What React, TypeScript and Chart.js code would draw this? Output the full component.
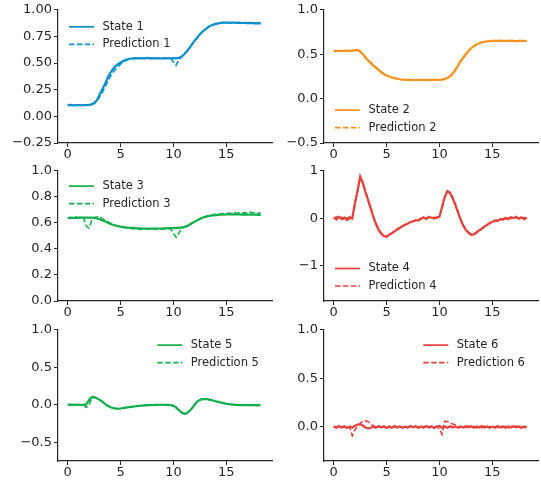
import React, { useEffect, useRef } from "react";
import { Chart, registerables } from "chart.js";

Chart.register(...registerables);

// ---------------- data ----------------
const TIME = [
  0, 0.25, 0.5, 0.75, 1, 1.25, 1.5, 1.75, 2, 2.25, 2.5, 2.75, 3, 3.25, 3.5, 3.75, 4, 4.25, 4.5, 4.75,
  5, 5.25, 5.5, 5.75, 6, 6.25, 6.5, 6.75, 7, 7.25, 7.5, 7.75, 8, 8.25, 8.5, 8.75, 9, 9.25, 9.5, 9.75,
  10, 10.25, 10.5, 10.75, 11, 11.25, 11.5, 11.75, 12, 12.25, 12.5, 12.75, 13, 13.25, 13.5, 13.75, 14, 14.25, 14.5, 14.75,
  15, 15.25, 15.5, 15.75, 16, 16.25, 16.5, 16.75, 17, 17.25, 17.5, 17.75, 18, 18.25,
];

const STATE_1 = [
  0.105, 0.107, 0.104, 0.106, 0.105, 0.103, 0.106, 0.105, 0.107,
  0.112, 0.125, 0.15, 0.2, 0.25, 0.3, 0.355, 0.405, 0.44, 0.47, 0.49, 0.505, 0.52, 0.53, 0.538, 0.543,
  0.545, 0.547, 0.544, 0.546, 0.545, 0.548, 0.544, 0.546, 0.545, 0.547, 0.543, 0.546, 0.545, 0.547, 0.544, 0.546, 0.545,
  0.548, 0.56, 0.58, 0.61, 0.64, 0.675, 0.71, 0.74, 0.77, 0.795, 0.815, 0.835, 0.85, 0.86, 0.868, 0.873, 0.877, 0.879,
  0.88, 0.878, 0.881, 0.879, 0.877, 0.88, 0.876, 0.878, 0.875, 0.877, 0.874, 0.873, 0.875, 0.872,
];
const PRED_1 = [
  0.104, 0.106, 0.105, 0.107, 0.104, 0.106, 0.105, 0.104, 0.106,
  0.11, 0.12, 0.14, 0.18, 0.22, 0.27, 0.32, 0.37, 0.41, 0.44, 0.465, 0.49, 0.51, 0.525, 0.535, 0.541,
  0.544, 0.546, 0.545, 0.547, 0.544, 0.546, 0.545, 0.544, 0.547, 0.545, 0.546, 0.544, 0.546, 0.545, 0.544, 0.51, 0.48,
  0.53, 0.555, 0.578, 0.605, 0.64, 0.675, 0.71, 0.74, 0.768, 0.793, 0.815, 0.835, 0.85, 0.86, 0.868, 0.874, 0.877, 0.88,
  0.879, 0.881, 0.878, 0.88, 0.876, 0.879, 0.877, 0.875, 0.878, 0.874, 0.876, 0.873, 0.874, 0.871,
];

const STATE_2 = [
  0.535, 0.538, 0.536, 0.539, 0.537, 0.54, 0.538, 0.541, 0.545,
  0.548, 0.53, 0.5, 0.46, 0.43, 0.4, 0.37, 0.345, 0.32, 0.295, 0.275, 0.26, 0.248, 0.238, 0.23, 0.223,
  0.218, 0.214, 0.212, 0.21, 0.211, 0.209, 0.21, 0.212, 0.209, 0.211, 0.21, 0.208, 0.211, 0.21, 0.212, 0.211, 0.214,
  0.22, 0.232, 0.25, 0.28, 0.32, 0.37, 0.418, 0.46, 0.5, 0.537, 0.567, 0.59, 0.608, 0.622, 0.633, 0.64, 0.645, 0.648,
  0.65, 0.651, 0.649, 0.652, 0.65, 0.651, 0.649, 0.652, 0.65, 0.648, 0.651, 0.649, 0.65, 0.648,
];
const PRED_2 = [
  0.537, 0.536, 0.539, 0.535, 0.538, 0.537, 0.54, 0.539, 0.543,
  0.55, 0.535, 0.51, 0.47, 0.44, 0.41, 0.38, 0.355, 0.33, 0.303, 0.28, 0.263, 0.25, 0.24, 0.231, 0.224,
  0.219, 0.215, 0.211, 0.21, 0.212, 0.21, 0.209, 0.211, 0.21, 0.212, 0.209, 0.21, 0.211, 0.209, 0.213, 0.21, 0.215,
  0.222, 0.235, 0.255, 0.29, 0.33, 0.38, 0.425, 0.468, 0.507, 0.542, 0.57, 0.593, 0.61, 0.624, 0.634, 0.641, 0.646, 0.649,
  0.651, 0.65, 0.652, 0.649, 0.651, 0.65, 0.652, 0.649, 0.651, 0.65, 0.648, 0.65, 0.649, 0.651,
];

const STATE_3 = [
  0.637, 0.639, 0.638, 0.64, 0.639, 0.641, 0.64, 0.641, 0.64,
  0.64, 0.638, 0.634, 0.628, 0.62, 0.612, 0.603, 0.594, 0.586, 0.58, 0.575, 0.571, 0.568, 0.565, 0.563, 0.562,
  0.561, 0.559, 0.558, 0.557, 0.557, 0.556, 0.556, 0.557, 0.556, 0.557, 0.557, 0.558, 0.558, 0.559, 0.559, 0.56, 0.561,
  0.562, 0.565, 0.568, 0.575, 0.585, 0.597, 0.608, 0.619, 0.63, 0.639, 0.645, 0.651, 0.655, 0.658, 0.66, 0.662, 0.663, 0.664,
  0.665, 0.665, 0.666, 0.665, 0.666, 0.665, 0.664, 0.665, 0.664, 0.664, 0.663, 0.663, 0.662, 0.662,
];
const PRED_3 = [
  0.635, 0.642, 0.637, 0.645, 0.64, 0.646, 0.64, 0.575, 0.56,
  0.615, 0.642, 0.645, 0.65, 0.632, 0.62, 0.61, 0.6, 0.59, 0.582, 0.576, 0.571, 0.567, 0.563, 0.56, 0.557,
  0.553, 0.556, 0.551, 0.554, 0.549, 0.555, 0.552, 0.55, 0.556, 0.551, 0.554, 0.552, 0.556, 0.553, 0.555, 0.52, 0.49,
  0.52, 0.555, 0.565, 0.573, 0.584, 0.598, 0.61, 0.622, 0.632, 0.642, 0.648, 0.655, 0.658, 0.663, 0.665, 0.668, 0.67, 0.672,
  0.672, 0.676, 0.671, 0.678, 0.673, 0.679, 0.674, 0.68, 0.675, 0.682, 0.676, 0.68, 0.674, 0.678,
];

const STATE_4 = [
  0.02, -0.03, 0.03, -0.02, 0.01, -0.04, 0.02, -0.01, 0.31, 0.58, 0.88, 0.74, 0.55, 0.38, 0.2, 0.02,
  -0.13, -0.25, -0.33, -0.38, -0.39, -0.35, -0.32, -0.28, -0.24,
  -0.21, -0.17, -0.14, -0.12, -0.08, -0.07, -0.04, -0.05, -0.01, 0.02, -0.02, 0.03, 0.01, -0.01, 0.02, 0.03, 0.24,
  0.45, 0.57, 0.53, 0.42, 0.28, 0.12, -0.03, -0.16, -0.25, -0.31, -0.35, -0.34, -0.3, -0.26, -0.22, -0.18, -0.14, -0.1,
  -0.08, -0.05, -0.06, -0.02, -0.03, 0.01, -0.02, 0.02, 0, 0.03, -0.01, 0.02, -0.02, 0.01,
];
const PRED_4 = [
  -0.01, 0.03, -0.02, 0.02, -0.03, 0.01, -0.02, 0.02, 0.28, 0.56, 0.85, 0.76, 0.57, 0.4, 0.22, 0.04,
  -0.11, -0.23, -0.32, -0.37, -0.4, -0.36, -0.31, -0.27, -0.23,
  -0.2, -0.16, -0.15, -0.11, -0.09, -0.06, -0.05, -0.03, -0.02, 0.01, 0, 0.02, -0.01, 0.02, 0, 0.05, 0.22,
  0.43, 0.57, 0.55, 0.44, 0.3, 0.14, -0.01, -0.14, -0.24, -0.3, -0.34, -0.35, -0.31, -0.27, -0.23, -0.19, -0.15, -0.11,
  -0.07, -0.06, -0.04, -0.03, -0.01, -0.02, 0.01, -0.01, 0.02, 0.01, 0, -0.02, 0.01, 0,
];

const STATE_5 = [
  0, 0.003, -0.002, 0.002, 0, -0.003, 0.002, 0.005,
  0.06, 0.1, 0.104, 0.088, 0.066, 0.042, 0.015, -0.013, -0.03, -0.042, -0.05, -0.053, -0.05, -0.043, -0.037, -0.032, -0.027,
  -0.023, -0.019, -0.015, -0.012, -0.009, -0.006, -0.004, -0.003, -0.002, -0.001, 0, 0, -0.001, 0, -0.005, -0.015, -0.035,
  -0.07, -0.1, -0.122, -0.115, -0.085, -0.048, 0, 0.044, 0.065, 0.075, 0.077, 0.074, 0.066, 0.057, 0.047, 0.038, 0.029, 0.021,
  0.014, 0.008, 0.004, 0.001, -0.002, -0.004, -0.005, -0.004, -0.006, -0.005, -0.006, -0.005, -0.007, -0.006,
];
const PRED_5 = [
  0.002, -0.001, 0.003, 0, -0.002, 0.003, 0, -0.035,
  -0.01, 0.085, 0.1, 0.09, 0.07, 0.045, 0.017, -0.01, -0.028, -0.04, -0.048, -0.052, -0.05, -0.044, -0.038, -0.033, -0.028,
  -0.024, -0.02, -0.016, -0.013, -0.01, -0.007, -0.005, -0.003, -0.002, -0.001, 0, 0, -0.001, 0, -0.004, -0.016, -0.04,
  -0.072, -0.102, -0.12, -0.112, -0.083, -0.046, 0.002, 0.045, 0.066, 0.076, 0.078, 0.073, 0.065, 0.056, 0.046, 0.037, 0.028, 0.02,
  0.013, 0.008, 0.003, 0, -0.002, -0.004, -0.005, -0.005, -0.006, -0.005, -0.006, -0.006, -0.007, -0.006,
];

const STATE_6 = [
  0.005, -0.008, 0.01, -0.005, 0.007, -0.01, 0.004, -0.006, 0.012, 0.025,
  0.03, 0.015, -0.005, -0.015, -0.01, 0.006, -0.008, 0.01, -0.004, 0.008,
  -0.01, 0.005, -0.007, 0.009, -0.005, 0.006, -0.009, 0.004, -0.006, 0.01,
  -0.004, 0.007, -0.008, 0.005, -0.006, 0.009, -0.005, 0.006, -0.01, 0.004,
  0.01, -0.008, 0.006, -0.007, 0.008, -0.005, 0.006, -0.009, 0.005, -0.006,
  0.008, -0.004, 0.007, -0.008, 0.005, -0.006, 0.009, -0.005, 0.006, -0.008,
  0.004, -0.007, 0.009, -0.005, 0.006, -0.008, 0.005, -0.006, 0.008, -0.004,
  0.006, -0.007, 0.005, -0.006,
];
const PRED_6 = [
  0.006, -0.007, 0.008, -0.004, 0.006, -0.009, 0.003, -0.09, -0.03, 0.01,
  0.035, 0.062, 0.065, 0.055, 0.035, 0.012, -0.005, 0.008, -0.006, 0.007,
  -0.009, 0.006, -0.005, 0.008, -0.006, 0.007, -0.008, 0.005, -0.007, 0.009,
  -0.005, 0.006, -0.008, 0.004, -0.006, 0.008, -0.005, 0.007, -0.009, 0.005,
  -0.02, -0.075, 0.06, 0.055, 0.04, 0.03, 0.022, 0.01, -0.004, 0.006,
  -0.007, 0.008, -0.005, 0.006, -0.009, 0.004, -0.006, 0.008, -0.005, 0.007,
  -0.008, 0.005, -0.006, 0.009, -0.004, 0.006, -0.008, 0.005, -0.007, 0.008,
  -0.005, 0.006, -0.007, 0.004,
];

const STATE_LABELS = ["State 1", "State 2", "State 3", "State 4", "State 5", "State 6"];
const PRED_LABELS = ["Prediction 1", "Prediction 2", "Prediction 3", "Prediction 4", "Prediction 5", "Prediction 6"];

const X_TICKS = [0, 5, 10, 15];
const Y_TICKS_1 = [-0.25, 0, 0.25, 0.5, 0.75, 1.0];
const Y_TICKS_2 = [-0.5, 0, 0.5, 1.0];
const Y_TICKS_3 = [0, 0.2, 0.4, 0.6, 0.8, 1.0];
const Y_TICKS_4 = [-1, 0, 1];
const Y_TICKS_5 = [-0.5, 0, 0.5, 1.0];
const Y_TICKS_6 = [0, 0.5, 1.0];

// ---------------- styling / layout ----------------
const BLUE = "#0c8fcc";
const ORANGE = "#f7931e";
const GREEN = "#12b04c";
const RED = "#e8403a";
const INK = "#262626";
const FONT = "'DejaVu Sans', sans-serif";

const Y_AXIS_W = 50;
const X_AXIS_H = 20;
const PAD_TOP = 8;
const PAD_BOTTOM = 2;

type PanelCfg = {
  state: number[];
  pred: number[];
  idx: number;
  color: string;
  yMin: number;
  yMax: number;
  yTicks: number[];
  dec: number;
  left: number;
  top: number;
  w: number;
  h: number;
  padR: number;
  legend: { dx: number; dy: number };
};

const PANELS: PanelCfg[] = [
  { state: STATE_1, pred: PRED_1, idx: 0, color: BLUE, yMin: -0.25, yMax: 1.0, yTicks: Y_TICKS_1, dec: 2,
    left: 8, top: 0, w: 268, h: 165, padR: 4, legend: { dx: 11, dy: 17 } },
  { state: STATE_2, pred: PRED_2, idx: 1, color: ORANGE, yMin: -0.5, yMax: 1.0, yTicks: Y_TICKS_2, dec: 1,
    left: 274, top: 0, w: 266, h: 165, padR: 2, legend: { dx: 11, dy: 100.3 } },
  { state: STATE_3, pred: PRED_3, idx: 2, color: GREEN, yMin: 0, yMax: 1.0, yTicks: Y_TICKS_3, dec: 1,
    left: 8, top: 161, w: 268, h: 162, padR: 4, legend: { dx: 11, dy: 15.3 } },
  { state: STATE_4, pred: PRED_4, idx: 3, color: RED, yMin: -1.75, yMax: 1.0, yTicks: Y_TICKS_4, dec: 0,
    left: 274, top: 161, w: 266, h: 162, padR: 2, legend: { dx: 11, dy: 97.7 } },
  { state: STATE_5, pred: PRED_5, idx: 4, color: GREEN, yMin: -0.75, yMax: 1.0, yTicks: Y_TICKS_5, dec: 1,
    left: 8, top: 320, w: 268, h: 163, padR: 4, legend: { dx: 99.3, dy: 15.3 } },
  { state: STATE_6, pred: PRED_6, idx: 5, color: RED, yMin: -0.35, yMax: 1.0, yTicks: Y_TICKS_6, dec: 1,
    left: 274, top: 320, w: 266, h: 163, padR: 2, legend: { dx: 99.3, dy: 15.3 } },
];

const fmt = (v: number, dec: number) => {
  const s = Math.abs(v).toFixed(dec);
  return v < 0 ? "\u2212" + s : s;
};

const inlineLegend = {
  id: "inlineLegend",
  afterDraw(chart: any, _args: any, opts: any) {
    const { ctx, chartArea } = chart;
    const x0 = chartArea.left + opts.dx;
    const y0 = chartArea.top + opts.dy;
    chart.data.datasets.forEach((ds: any, i: number) => {
      const y = y0 + i * 17.5;
      ctx.save();
      ctx.strokeStyle = ds.borderColor;
      ctx.lineWidth = 1.7;
      ctx.setLineDash(ds.borderDash || []);
      ctx.beginPath();
      ctx.moveTo(x0, y);
      ctx.lineTo(x0 + 25, y);
      ctx.stroke();
      ctx.setLineDash([]);
      ctx.fillStyle = INK;
      ctx.font = `11.5px ${FONT}`;
      ctx.textBaseline = "middle";
      ctx.textAlign = "left";
      ctx.fillText(ds.label, x0 + 33.5, y);
      ctx.restore();
    });
  },
};

function Panel({ cfg }: { cfg: PanelCfg }) {
  const ref = useRef<HTMLCanvasElement | null>(null);
  useEffect(() => {
    if (!ref.current) return;
    const toPts = (arr: number[]) => TIME.map((t, i) => ({ x: t, y: arr[i] }));
    const chart = new Chart(ref.current, {
      type: "line",
      data: {
        datasets: [
          {
            label: STATE_LABELS[cfg.idx],
            data: toPts(cfg.state),
            borderColor: cfg.color,
            backgroundColor: cfg.color,
            borderWidth: 2.2,
            pointRadius: 0,
            tension: 0,
          },
          {
            label: PRED_LABELS[cfg.idx],
            data: toPts(cfg.pred),
            borderColor: cfg.color,
            backgroundColor: cfg.color,
            borderWidth: 1.6,
            borderDash: [5.5, 2.4],
            pointRadius: 0,
            tension: 0,
          },
        ],
      },
      options: {
        animation: false,
        responsive: false,
        devicePixelRatio: 1,
        events: [],
        layout: { padding: { top: PAD_TOP, left: 0, right: cfg.padR, bottom: PAD_BOTTOM } },
        plugins: {
          legend: { display: false },
          tooltip: { enabled: false },
          inlineLegend: cfg.legend,
        } as any,
        scales: {
          x: {
            type: "linear",
            min: -0.92,
            max: 19.32,
            afterBuildTicks: (s: any) => {
              s.ticks = X_TICKS.map((v) => ({ value: v }));
            },
            afterFit: (s: any) => {
              s.height = X_AXIS_H;
            },
            ticks: {
              color: INK,
              font: { family: FONT, size: 13 },
              padding: 0,
              maxRotation: 0,
              autoSkip: false,
              callback: (v: any) => String(v),
            },
            grid: { drawOnChartArea: false, drawTicks: true, tickLength: 4, color: INK, lineWidth: 1 },
            border: { display: true, color: INK, width: 1.2 },
          },
          y: {
            type: "linear",
            min: cfg.yMin,
            max: cfg.yMax,
            afterBuildTicks: (s: any) => {
              s.ticks = cfg.yTicks.map((v) => ({ value: v }));
            },
            afterFit: (s: any) => {
              s.width = Y_AXIS_W;
            },
            ticks: {
              color: INK,
              font: { family: FONT, size: 13 },
              padding: 2,
              autoSkip: false,
              callback: (v: any) => fmt(Number(v), cfg.dec),
            },
            grid: { drawOnChartArea: false, drawTicks: true, tickLength: 4, color: INK, lineWidth: 1 },
            border: { display: true, color: INK, width: 1.2 },
          },
        },
      } as any,
      plugins: [inlineLegend],
    });
    return () => chart.destroy();
  }, [cfg]);
  return (
    <canvas
      ref={ref}
      width={cfg.w}
      height={cfg.h}
      style={{ position: "absolute", left: cfg.left, top: cfg.top, width: cfg.w, height: cfg.h }}
    />
  );
}

export default function App() {
  return (
    <div
      style={{
        position: "fixed",
        left: 0,
        top: 0,
        width: 541,
        height: 481,
        overflow: "hidden",
        background: "#ffffff",
      }}
    >
      {PANELS.map((p) => (
        <Panel key={p.idx} cfg={p} />
      ))}
    </div>
  );
}
